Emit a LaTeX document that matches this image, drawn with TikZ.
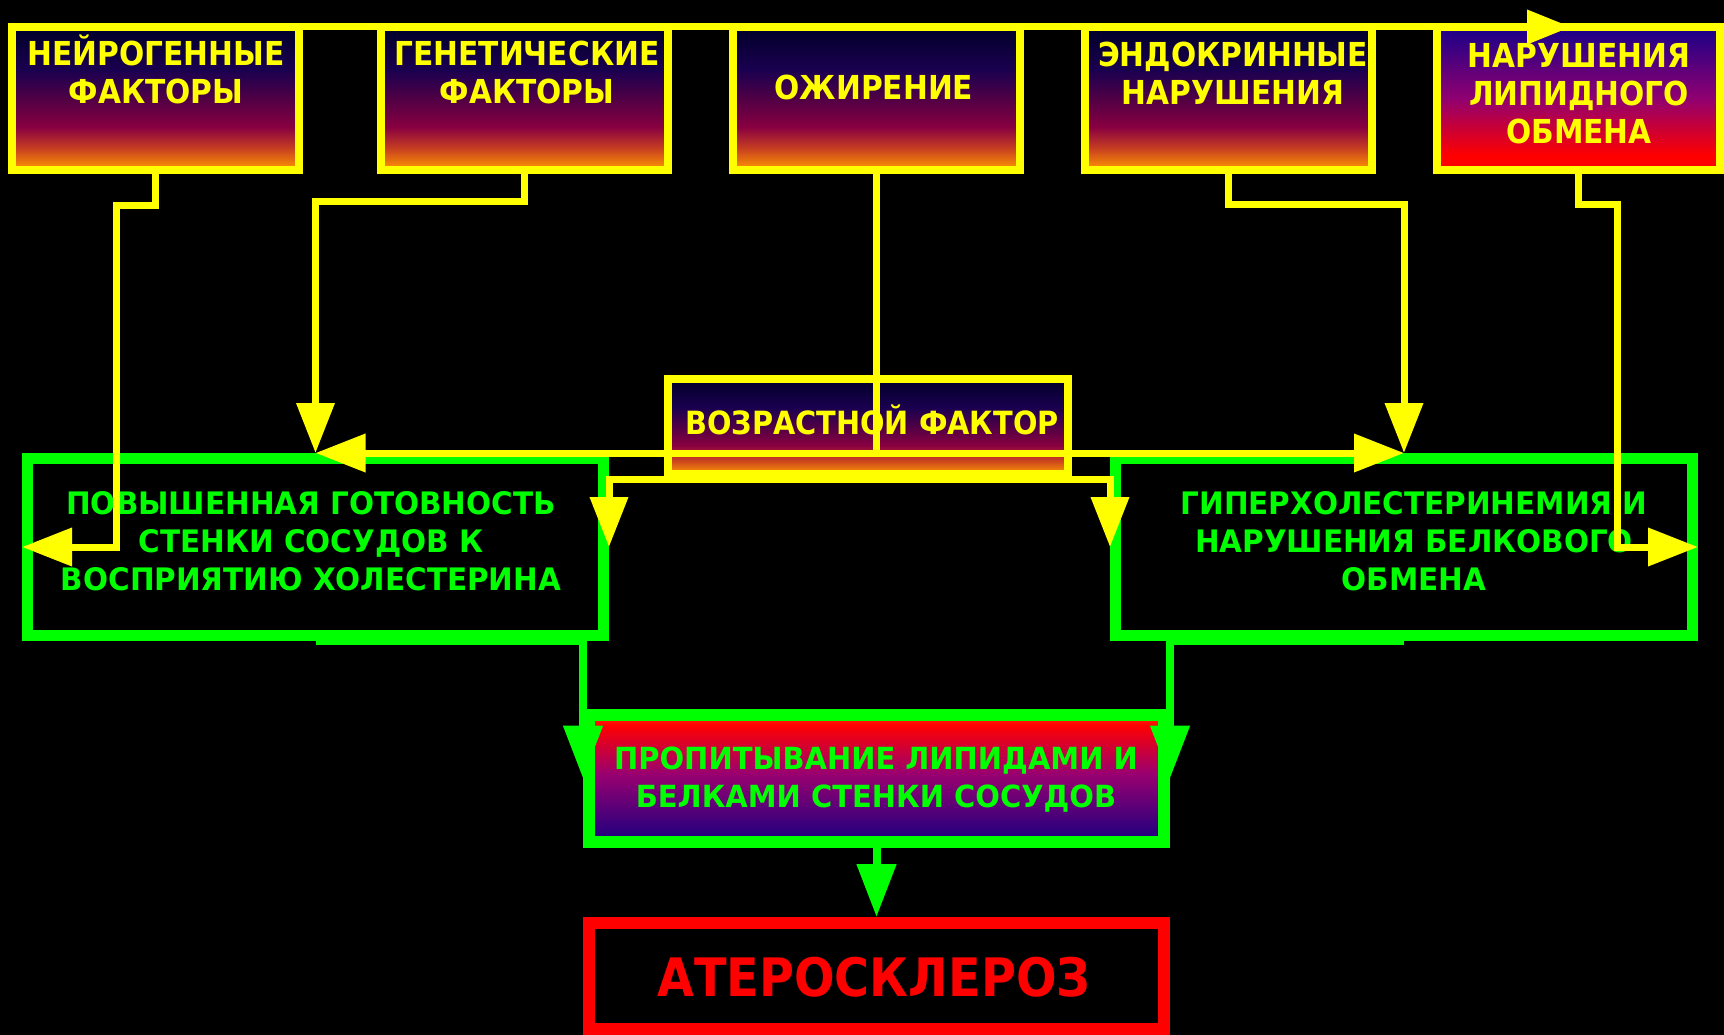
\documentclass[tikz,border=0pt]{standalone}
\usepackage{fontspec}
\setmainfont{DejaVu Sans}[FakeStretch=0.9]
\newfontfamily\widefont{DejaVu Sans}[FakeStretch=0.95]
\usetikzlibrary{arrows.meta}
\definecolor{yel}{HTML}{FFFF00}
\definecolor{grn}{HTML}{00FF00}
\definecolor{rd}{HTML}{FF0000}
\definecolor{navyc}{HTML}{000028}
\definecolor{indg}{HTML}{1A0050}
\definecolor{purc}{HTML}{500045}
\definecolor{crim}{HTML}{880040}
\definecolor{orng}{HTML}{FF9900}
\definecolor{orred}{HTML}{C84020}
\definecolor{bluev}{HTML}{180088}
\definecolor{magv}{HTML}{900070}
\definecolor{bluep}{HTML}{1A0080}
\definecolor{magp}{HTML}{9A0070}
\definecolor{redor}{HTML}{FF3300}
\pgfdeclareverticalshading{topgrad}{100bp}{color(0bp)=(orng); color(25bp)=(orng); color(32.5bp)=(orred); color(40bp)=(crim); color(50bp)=(purc); color(60bp)=(indg); color(75bp)=(navyc); color(100bp)=(navyc)}
\pgfdeclareverticalshading{bluered}{100bp}{color(0bp)=(rd); color(25bp)=(rd); color(30bp)=(rd); color(50bp)=(magv); color(75bp)=(bluev); color(100bp)=(bluev)}
\pgfdeclareverticalshading{redblue}{100bp}{color(0bp)=(bluep); color(25bp)=(bluep); color(52bp)=(magp); color(71bp)=(rd); color(75bp)=(redor); color(100bp)=(redor)}
\tikzset{
  topbox/.style={draw=yel, line width=8pt, shade, shading=topgrad, minimum width=287pt, minimum height=143pt, inner sep=0pt},
  lipbox/.style={topbox, shading=bluered, minimum width=283pt},
  agebox/.style={topbox, minimum width=400pt, minimum height=95pt},
  gbox/.style={draw=grn, line width=11pt, fill=black, minimum width=576pt, minimum height=177pt, inner sep=0pt},
  pbox/.style={draw=grn, line width=12pt, shade, shading=redblue, minimum width=575pt, minimum height=127pt, inner sep=0pt},
  abox/.style={draw=rd, line width=12pt, fill=black, minimum width=575pt, minimum height=106pt, inner sep=0pt},
  ytext/.style={text=yel, font=\fontsize{33}{38}\selectfont\bfseries, align=center, inner sep=0pt},
  agetext/.style={text=yel, font=\fontsize{32}{38}\selectfont\bfseries, align=center, inner sep=0pt},
  gtext/.style={text=grn, font=\widefont\fontsize{31}{38}\selectfont\bfseries, align=center, inner sep=0pt},
  ptext/.style={text=grn, font=\widefont\fontsize{30.5}{38}\selectfont\bfseries, align=center, inner sep=0pt},
  atext/.style={text=rd, font=\fontsize{53}{60}\selectfont\bfseries, inner sep=0pt},
  yline/.style={draw=yel, line width=7pt},
  yarr/.style={yline, -{Triangle[length=50pt,width=37pt]}},
  garr/.style={draw=grn, line width=8pt, -{Triangle[length=53pt,width=38pt]}}
}
\begin{document}
\begin{tikzpicture}[x=1pt,y=-1pt]
\fill[black] (0,0) rectangle (1724,1035);
\useasboundingbox (0,0) rectangle (1724,1035);
% boxes
\node[topbox] (B1) at (155.5,98.5) {};
\node[topbox] (B2) at (524,98.5) {};
\node[topbox] (B3) at (876,98.5) {};
\node[topbox] (B4) at (1228.5,98.5) {};
\node[lipbox] (B5) at (1578.5,98.5) {};
\node[agebox] (age) at (868,426.5) {};
\node[gbox] (L) at (315.5,547) {};
\node[gbox, minimum width=577pt] (R) at (1404,547) {};
\node[pbox] (P) at (876.5,778.5) {};
\node[abox] (A) at (876.5,976) {};
% texts
\node[ytext] (t1) at (156,69) {НЕЙРОГЕННЫЕ\\ФАКТОРЫ};
\node[ytext] (t2) at (527,72) {ГЕНЕТИЧЕСКИЕ\\ФАКТОРЫ};
\node[ytext] (t3) at (874,87) {ОЖИРЕНИЕ};
\node[ytext] (t4) at (1233,73) {ЭНДОКРИННЫЕ\\НАРУШЕНИЯ};
\node[ytext] (t5) at (1579,94) {НАРУШЕНИЯ\\ЛИПИДНОГО\\ОБМЕНА};
\node[agetext] (tage) at (872,419.5) {ВОЗРАСТНОЙ ФАКТОР};
\node[gtext] (tL) at (311,541.5) {ПОВЫШЕННАЯ ГОТОВНОСТЬ\\СТЕНКИ СОСУДОВ К\\ВОСПРИЯТИЮ ХОЛЕСТЕРИНА};
\node[gtext] (tR) at (1414,541.5) {ГИПЕРХОЛЕСТЕРИНЕМИЯ И\\НАРУШЕНИЯ БЕЛКОВОГО\\ОБМЕНА};
\node[ptext] (tP) at (876,780) {ПРОПИТЫВАНИЕ ЛИПИДАМИ И\\БЕЛКАМИ СТЕНКИ СОСУДОВ};
\node[atext] (tA) at (874,977) {АТЕРОСКЛЕРОЗ};
% yellow connectors
\coordinate (toptip) at (1571,27);
\draw[yline, -{Triangle[length=44pt,width=33pt]}] ([yshift=-4pt]B1.north east) -- (toptip);
\draw[yarr] (B1.south) -- ++(0,32) -| ([xshift=94pt]L.west) -- (L.west);
\draw[yarr] (B2.south) -- ++(0,28) -| (L.north);
\coordinate (split) at (B3.south |- L.north);
\draw[yline] (B3.south) -- (split);
\draw[yarr] (split) -- (L.north);
\draw[yarr] (split) -- (R.north);
\draw[yarr] (B4.south) -- ++(0,31) -| (R.north);
\draw[yarr] (B5.south) -- ++(0,31) -| ([xshift=-81pt]R.east) -- (R.east);
\coordinate (agebot) at ([yshift=-1pt]age.south);
\draw[yarr] (agebot) -| (L.east);
\draw[yarr] (agebot) -| (R.west);
% green connectors
\draw[garr] (L.south) -| (P.west);
\draw[garr] (R.south) -| (P.east);
\draw[garr] (P.south) -- (A.north);
\end{tikzpicture}
\end{document}
